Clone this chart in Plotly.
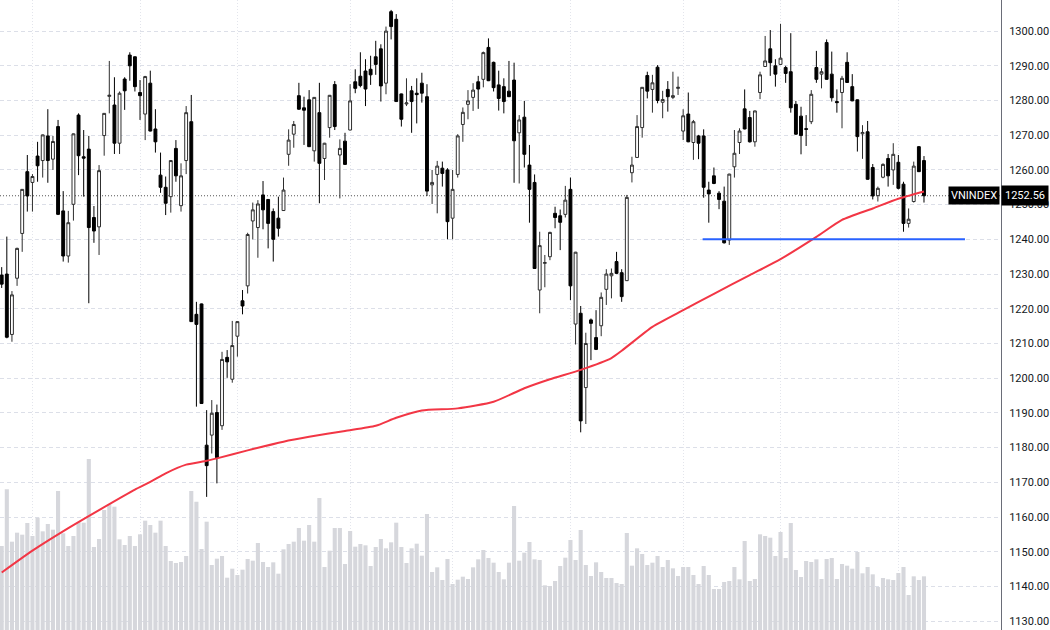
import plotly.graph_objects as go

# ---------------- data ----------------
opens = [1229.7,1230.0,1212.6,1228.8,1241.7,1259.5,1256.4,1264.0,1262.7,1269.8,
         1263.1,1272.5,1248.2,1235.2,1250.1,1275.8,1263.8,1266.0,1246.3,1243.6,
         1269.9,1281.2,1278.7,1267.7,1286.2,1293.1,1292.6,1282.3,1276.1,1285.0,
         1271.8,1258.5,1255.0,1252.3,1266.2,1249.7,1262.7,1273.9,1218.4,1221.4,
         1180.7,1183.6,1190.1,1186.3,1206.0,1199.7,1212.1,1222.3,1226.6,1245.3,
         1243.4,1252.8,1251.5,1248.0,1246.1,1248.3,1264.5,1270.3,1281.4,1277.9,
         1280.2,1265.5,1276.5,1263.3,1272.2,1284.6,1264.3,1268.3,1271.5,1285.4,
         1287.0,1288.5,1289.0,1292.6,1294.9,1285.0,1305.6,1303.4,1281.9,1279.0,
         1282.8,1282.1,1285.0,1281.1,1255.7,1258.7,1260.5,1260.0,1246.1,1258.7,
         1273.1,1278.9,1280.9,1285.4,1286.1,1295.3,1291.0,1284.5,1284.0,1282.7,
         1285.9,1270.7,1275.2,1261.4,1256.4,1225.4,1233.1,1235.0,1247.5,1246.8,
         1247.2,1254.4,1215.6,1218.7,1197.3,1216.8,1211.7,1215.1,1225.6,1229.5,
         1233.6,1230.4,1228.1,1259.2,1263.6,1272.2,1287.2,1283.2,1289.6,1279.5,
         1283.2,1280.9,1283.5,1271.2,1276.1,1267.9,1269.8,1269.8,1254.2,1258.3,
         1253.3,1251.0,1239.8,1260.9,1267.9,1277.6,1275.1,1268.1,1282.3,1289.8,
         1294.9,1290.0,1290.4,1289.5,1288.3,1278.9,1275.5,1271.9,1273.9,1289.5,
         1287.6,1296.7,1287.6,1279.7,1282.3,1291.0,1284.0,1280.2,1270.4,1271.0,
         1260.7,1252.6,1257.9,1263.3,1260.0,1262.2,1255.9,1244.6,1250.9,1266.7,
         1262.7]
highs = [1232.0,1240.8,1225.1,1237.6,1254.5,1264.3,1258.8,1268.1,1270.2,1277.5,
         1269.8,1274.4,1253.9,1248.2,1270.5,1276.3,1271.5,1269.8,1249.6,1261.4,
         1276.4,1291.4,1286.7,1282.6,1286.7,1293.9,1292.7,1285.9,1287.1,1288.6,
         1277.5,1265.0,1258.1,1262.8,1268.6,1261.9,1278.4,1281.6,1222.0,1221.5,
         1190.8,1193.7,1192.4,1207.6,1208.1,1216.5,1216.4,1225.4,1241.9,1250.6,
         1251.3,1256.8,1251.6,1248.9,1252.3,1257.8,1271.7,1274.1,1285.1,1281.1,
         1283.0,1281.0,1285.1,1267.8,1281.6,1285.6,1268.8,1270.7,1284.7,1289.0,
         1293.9,1291.9,1292.9,1297.2,1296.2,1301.3,1306.1,1304.9,1282.0,1286.4,
         1284.2,1286.4,1288.0,1284.7,1260.0,1262.6,1262.4,1260.5,1260.0,1270.3,
         1278.0,1283.0,1285.0,1287.1,1294.1,1297.9,1291.2,1288.6,1286.4,1291.4,
         1290.9,1275.8,1279.9,1267.2,1258.7,1242.2,1235.5,1242.2,1249.4,1248.6,
         1255.4,1257.8,1236.4,1220.8,1213.1,1217.2,1219.6,1224.7,1231.4,1231.6,
         1236.4,1231.4,1252.8,1263.8,1275.8,1283.9,1288.3,1287.4,1290.2,1282.8,
         1285.6,1288.3,1286.9,1277.5,1282.3,1274.4,1270.1,1271.7,1256.6,1260.7,
         1253.9,1255.2,1258.9,1271.5,1272.0,1283.2,1277.0,1277.1,1288.3,1298.6,
         1300.3,1291.9,1302.1,1290.0,1299.4,1279.9,1278.2,1275.8,1283.0,1294.3,
         1289.3,1297.6,1294.1,1283.2,1287.1,1293.9,1287.6,1280.3,1272.9,1274.1,
         1261.7,1255.2,1261.9,1264.6,1267.7,1264.3,1256.6,1248.9,1262.4,1266.9,
         1264.0]
lows = [1226.0,1211.5,1210.5,1226.6,1236.4,1248.0,1248.0,1256.6,1257.8,1256.3,
        1260.0,1247.0,1233.6,1233.3,1245.4,1258.5,1252.3,1221.6,1239.0,1235.5,
        1264.1,1276.3,1264.6,1264.6,1277.3,1285.7,1282.6,1274.4,1268.6,1271.1,
        1265.0,1253.4,1247.0,1247.7,1256.6,1248.0,1258.8,1216.2,1191.8,1192.6,
        1165.8,1178.3,1169.7,1185.1,1200.1,1198.7,1206.2,1218.4,1224.4,1240.0,
        1234.7,1242.9,1237.4,1233.6,1240.8,1248.2,1261.2,1266.4,1277.3,1267.2,
        1266.6,1262.4,1250.4,1257.1,1269.3,1271.5,1251.8,1261.5,1271.4,1282.1,
        1283.8,1278.4,1284.5,1287.4,1279.7,1281.8,1297.6,1279.6,1272.5,1278.4,
        1270.7,1273.4,1279.4,1252.5,1250.2,1247.5,1255.2,1240.0,1240.0,1257.8,
        1268.1,1274.6,1277.0,1277.6,1283.8,1285.6,1282.6,1277.1,1276.3,1281.0,
        1256.3,1256.1,1260.7,1244.8,1231.5,1218.7,1226.2,1234.0,1243.2,1236.9,
        1246.3,1222.5,1209.7,1184.4,1186.8,1205.2,1208.1,1212.1,1221.1,1223.0,
        1230.0,1222.0,1228.0,1256.4,1263.5,1269.3,1280.6,1276.5,1279.2,1274.9,
        1276.8,1280.4,1281.6,1268.6,1268.0,1262.9,1263.1,1252.0,1244.8,1255.9,
        1248.7,1238.8,1238.4,1257.8,1264.6,1271.7,1267.9,1266.7,1280.4,1289.7,
        1287.1,1284.0,1290.3,1285.1,1276.5,1270.1,1264.5,1266.9,1273.2,1285.1,
        1283.5,1286.0,1279.7,1276.5,1272.0,1285.1,1279.8,1265.3,1263.2,1257.2,
        1251.5,1250.9,1257.6,1255.2,1255.7,1254.4,1242.2,1243.4,1250.6,1259.4,
        1250.6]
closes = [1227.1,1211.8,1224.0,1237.4,1254.4,1252.5,1258.1,1261.2,1270.1,1262.7,
          1268.2,1247.2,1235.2,1244.8,1270.4,1264.1,1263.4,1243.4,1242.4,1259.8,
          1276.3,1281.5,1267.7,1282.1,1282.8,1290.0,1284.0,1281.4,1286.9,1271.2,
          1268.1,1255.0,1250.4,1262.7,1258.3,1258.3,1276.5,1216.3,1215.5,1192.7,
          1174.8,1189.9,1177.1,1205.4,1204.7,1209.4,1216.3,1220.8,1241.4,1248.5,
          1250.2,1248.5,1244.6,1240.0,1243.2,1254.2,1268.6,1273.1,1277.5,1277.2,
          1266.7,1280.9,1261.9,1267.7,1281.5,1272.5,1266.2,1261.6,1279.9,1283.5,
          1284.3,1283.3,1287.4,1290.4,1284.2,1300.0,1301.3,1279.7,1274.6,1279.3,
          1279.7,1281.7,1282.1,1253.9,1256.4,1261.1,1259.0,1245.1,1254.4,1269.8,
          1276.6,1279.9,1283.0,1283.3,1293.8,1285.7,1283.7,1280.6,1279.7,1281.1,
          1268.4,1274.4,1264.5,1254.4,1231.6,1238.2,1233.3,1242.0,1246.3,1244.9,
          1251.3,1226.6,1236.3,1187.7,1210.0,1215.8,1208.3,1223.3,1230.0,1230.2,
          1230.2,1223.5,1252.1,1261.4,1272.5,1283.8,1282.7,1285.1,1280.0,1280.3,
          1281.1,1281.4,1283.8,1275.6,1268.1,1273.9,1267.7,1255.0,1253.1,1256.1,
          1251.5,1239.0,1258.8,1264.8,1271.2,1271.8,1268.1,1277.0,1287.4,1291.4,
          1290.9,1287.6,1292.2,1287.8,1277.9,1270.3,1269.9,1271.7,1281.8,1286.1,
          1288.3,1286.1,1280.8,1279.4,1286.4,1285.2,1279.9,1269.6,1270.8,1257.3,
          1252.5,1254.7,1261.6,1258.3,1264.5,1254.7,1244.6,1245.8,1261.1,1259.5,
          1252.56]
# volume (millions of shares)
volume = [504,844,530,584,572,642,564,674,592,636,602,834,580,504,564,648,644,1026,498,546,
          720,754,740,544,510,564,504,574,656,630,584,656,504,414,402,408,444,834,770,486,
          650,390,428,444,314,368,330,362,426,416,522,408,378,406,338,484,516,530,612,536,
          630,530,792,378,476,612,612,396,594,500,516,508,384,498,546,490,526,644,498,402,
          490,518,446,696,348,376,300,426,276,302,320,306,376,424,480,432,404,348,304,404,
          744,416,464,528,424,420,268,264,294,384,434,540,420,600,390,324,406,348,312,312,
          282,276,582,386,490,456,390,404,444,378,420,370,324,378,378,330,276,384,330,246,
          246,288,294,378,304,534,294,306,574,564,554,444,588,432,642,360,318,414,408,424,
          306,426,432,306,396,386,368,468,340,378,334,258,312,304,300,342,378,210,322,300,
          322]

ma_idx = [0, 6, 13, 19, 26, 29, 32, 36, 40, 42, 48, 55, 60, 67, 73, 77, 82, 89, 96, 102,
          107, 113, 119, 121, 127, 133, 139, 146, 152, 159, 164, 170, 175, 180]
ma_val = [1144.0, 1150.3, 1156.8, 1162.0, 1167.9, 1170.1, 1172.6, 1175.1, 1176.2, 1176.9,
          1179.2, 1181.7, 1183.1, 1184.8, 1186.3, 1188.6, 1190.7, 1191.3, 1193.2, 1197.1,
          1199.7, 1202.4, 1205.8, 1207.9, 1214.8, 1219.6, 1224.3, 1229.7, 1234.3, 1240.7,
          1245.6, 1248.9, 1251.7, 1253.8]

support_level = 1240.0
support_span = [136.8, 188.0]
month_starts = [6, 27, 46, 68, 88, 111, 133, 152, 175]
price_ticks = list(range(1130, 1310, 10))
top_tick_label = "1310.00"
symbol = "VNINDEX"
last_price = closes[-1]

idx = list(range(len(opens)))

fig = go.Figure()
fig.add_trace(go.Bar(x=idx, y=volume, yaxis="y", width=0.8,
                     marker=dict(color="#d6d7dc", line_width=0), hoverinfo="skip"))
fig.add_trace(go.Candlestick(x=idx, open=opens, high=highs, low=lows, close=closes,
                             yaxis="y2", whiskerwidth=0,
                             increasing=dict(line=dict(color="#2e2e2e", width=1), fillcolor="#ffffff"),
                             decreasing=dict(line=dict(color="#000000", width=1), fillcolor="#000000")))
fig.add_trace(go.Scatter(x=ma_idx, y=ma_val, yaxis="y2", mode="lines",
                         line=dict(color="#f23645", width=2, shape="spline", smoothing=0.6)))
fig.add_trace(go.Scatter(x=support_span, y=[support_level, support_level], yaxis="y2",
                         mode="lines", line=dict(color="#2962ff", width=2)))

fig.add_shape(type="line", xref="paper", x0=0, x1=1, yref="y2", y0=last_price, y1=last_price,
              line=dict(color="#555555", width=1, dash="1px,2px"), layer="below")

font_fam = "Roboto, 'Open Sans', sans-serif"
fig.add_annotation(xref="paper", x=1, xanchor="right", xshift=-1, yref="y2", y=last_price,
                   yanchor="middle", text=symbol, showarrow=False, bgcolor="#000000",
                   borderpad=2, font=dict(family=font_fam, size=11, color="#ffffff"))
fig.add_annotation(xref="paper", x=1, xanchor="left", xshift=0, yref="y2", y=last_price,
                   yanchor="middle", text=f"{last_price:.2f}", showarrow=False, bgcolor="#000000",
                   borderpad=3, font=dict(family=font_fam, size=11, color="#ffffff"))
# partially visible top tick label (just above the plotted range)
fig.add_annotation(xref="paper", x=1, xanchor="left", xshift=4, yref="paper", y=1.0062,
                   yanchor="middle", text=top_tick_label, showarrow=False,
                   font=dict(family=font_fam, size=11, color="#131722"))

fig.update_layout(
    width=1050, height=630,
    margin=dict(l=0, r=49, t=0, b=0),
    paper_bgcolor="#ffffff", plot_bgcolor="#ffffff",
    showlegend=False, boxgap=0.2,
    xaxis=dict(range=[-0.332, 195.03], tickvals=month_starts, showticklabels=False,
               ticks="", showgrid=True, gridcolor="#e3e5ec", griddash="1px,2px",
               gridwidth=1, zeroline=False, showline=False, rangeslider=dict(visible=False)),
    yaxis=dict(range=[0, 3780], visible=False, showgrid=False, zeroline=False),
    yaxis2=dict(overlaying="y", side="right", anchor="x", range=[1127.45, 1308.96],
                tickvals=price_ticks, tickformat=".2f", ticks="", ticklabelstandoff=5,
                showgrid=True, gridcolor="#dcdfe8", griddash="4px,3px", gridwidth=1,
                zeroline=False, showline=True, linecolor="#6a6d78", linewidth=1,
                tickfont=dict(family=font_fam, size=11, color="#131722")),
)

fig.write_html("out.html")
